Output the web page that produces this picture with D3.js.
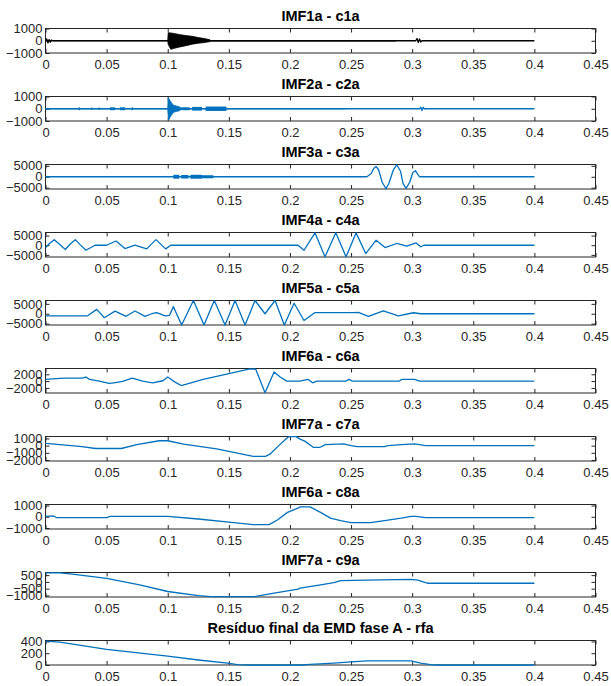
<!DOCTYPE html>
<html>
<head>
<meta charset="utf-8">
<script src="https://cdn.jsdelivr.net/npm/d3@7"></script>
<style>
  html, body { margin: 0; padding: 0; background: #fff; }
  svg { display: block; }
  .tick text { font-family: "Liberation Sans", Arial, sans-serif; font-size: 13px; fill: #262626; }
  .title { font-family: "Liberation Sans", Arial, sans-serif; font-size: 14.5px; font-weight: bold; fill: #000; }
</style>
</head>
<body>
<svg id="chart" width="611" height="686"></svg>
<script>
// ---- Shared axis data ----
const xTicks = [0, 0.05, 0.1, 0.15, 0.2, 0.25, 0.3, 0.35, 0.4, 0.45];
const xTickLabels = ["0", "0.05", "0.1", "0.15", "0.2", "0.25", "0.3", "0.35", "0.4", "0.45"];

const titles = [
  "IMF1a - c1a", "IMF2a - c2a", "IMF3a - c3a", "IMF4a - c4a", "IMF5a - c5a",
  "IMF6a - c6a", "IMF7a - c7a", "IMF6a - c8a", "IMF7a - c9a",
  "Resíduo final da EMD fase A - rfa"
];

const yLimits = [
  [-1000, 1000], [-1000, 1000], [-5600, 5600], [-6100, 6600], [-5700, 6700],
  [-3500, 3700], [-2140, 1270], [-1090, 1090], [-1116, 695], [0, 416]
];

const yTicks = [
  [-1000, 0, 1000], [-1000, 0, 1000], [-5000, 0, 5000], [-5000, 0, 5000], [-5000, 0, 5000],
  [-2000, 0, 2000], [-2000, -1000, 0, 1000], [-1000, 0, 1000], [-1000, -500, 0, 500], [0, 200, 400]
];

// ---- Component c1 (time, value) ----
const c1Line = [[0,0],[0.001,150],[0.002,-180],[0.003,100],[0.004,-120],[0.005,60],[0.006,0],
  [0.1,0],[0.135,0],[0.287,0],[0.303,0],[0.304,180],[0.305,-150],[0.306,150],[0.307,-100],[0.308,0],[0.4,0]];
// noise bands: [start, end, half amplitude]
const c1Bands = [[0,0.1,40],[0.135,0.287,60]];
// oscillation envelope: [time, lower, upper]
const c1Burst = [[0.1,0,0],[0.1004,-300,650],[0.1025,-700,640],[0.106,-600,580],[0.11,-500,500],
  [0.115,-400,420],[0.12,-280,360],[0.125,-200,260],[0.13,-150,180],[0.1346,-70,80]];

// ---- Component c2 ----
const c2Line = [[0,0],[0.1,0],[0.111,0],[0.245,0],[0.306,0],[0.307,120],[0.308,-150],[0.309,130],[0.31,0],[0.4,0]];
const c2Bands = [[0,0.245,45],[0.0272,0.0282,120],[0.0373,0.0383,100],[0.0433,0.0443,100],
  [0.0528,0.0569,120],[0.061,0.0651,120],[0.0705,0.0716,120],[0.111,0.118,120],[0.12,0.128,150],[0.131,0.148,180]];
const c2Burst = [[0.1,0,0],[0.1003,-500,900],[0.1008,-920,850],[0.102,-700,650],[0.1035,-450,420],
  [0.105,-280,280],[0.107,-220,220],[0.109,-180,180],[0.111,-60,60]];

// ---- Component c3 ----
const c3Line = [[0,0],[0.263,0],[0.2665,1500],[0.2685,3800],[0.2705,4700],[0.2725,3200],[0.2755,-2500],
  [0.2786,-5500],[0.281,-3000],[0.2845,3000],[0.2874,5500],[0.2905,2500],[0.2925,-3000],[0.295,-5300],
  [0.298,-2500],[0.3005,1800],[0.3026,2800],[0.3045,1200],[0.306,0],[0.4,0]];
const c3Bands = [[0.1046,0.1095,900],[0.111,0.117,800],[0.1185,0.128,900],[0.128,0.1373,700]];

// ---- Component c4 ----
const c4Line = [[0,-1200],[0.0035,1000],[0.0072,2900],[0.0115,500],[0.0162,-2200],[0.0205,800],[0.0244,2900],
  [0.0285,200],[0.0331,-2600],[0.0405,0],[0.05,0],[0.0577,2200],[0.065,-1700],[0.0732,0],[0.0828,-1900],
  [0.0904,2900],[0.0983,-1900],[0.1025,0],[0.2066,0],[0.2115,-2600],[0.2205,6400],[0.2287,-6000],
  [0.2375,6500],[0.2459,-6000],[0.2541,6400],[0.262,-4300],[0.2705,2600],[0.2778,-1200],[0.2874,900],
  [0.2956,-500],[0.3032,1200],[0.307,-800],[0.3097,0],[0.4,0]];

// ---- Component c5 ----
const c5Line = [[0,-1100],[0.0342,-1100],[0.0419,2200],[0.0481,-2000],[0.0569,1300],[0.0659,-1300],
  [0.0732,1400],[0.0814,-1300],[0.0869,0],[0.091,600],[0.0978,-1100],[0.1015,-800],[0.1046,3600],
  [0.1114,-5700],[0.121,6700],[0.1297,-5700],[0.1381,6700],[0.1469,-5700],[0.1551,6700],[0.1633,-5700],
  [0.1714,6700],[0.1796,0],[0.1878,6700],[0.1954,-5700],[0.2034,5300],[0.2115,-3400],[0.2205,600],
  [0.2519,600],[0.256,700],[0.2642,-1300],[0.2764,1500],[0.2887,-1100],[0.301,500],[0.307,0],[0.4,0]];

// ---- Component c6 ----
const c6Line = [[0,500],[0.015,900],[0.03,900],[0.033,1200],[0.036,500],[0.044,0],[0.052,-700],[0.056,-500],
  [0.063,-100],[0.071,900],[0.0795,0],[0.0877,-500],[0.096,100],[0.1,1200],[0.106,-300],[0.111,-1300],
  [0.119,-500],[0.129,500],[0.1674,3600],[0.172,3500],[0.1796,-3400],[0.187,2700],[0.192,1200],[0.1974,0],
  [0.208,0],[0.215,500],[0.2185,-500],[0.222,0],[0.2457,0],[0.2485,500],[0.251,0],[0.2895,0],[0.2915,500],
  [0.302,500],[0.306,0],[0.4,0]];

// ---- Component c7 ----
const c7Line = [[0,300],[0.0075,200],[0.03,-140],[0.0409,-400],[0.062,-400],[0.0747,140],[0.093,680],[0.1,680],
  [0.113,220],[0.14,-450],[0.17,-1500],[0.18,-1500],[0.184,-1140],[0.19,-140],[0.198,1140],[0.2,1250],
  [0.205,1250],[0.2083,900],[0.2125,590],[0.219,-230],[0.2247,-230],[0.229,140],[0.244,230],[0.25,0],
  [0.255,-140],[0.2774,-140],[0.28,0],[0.291,140],[0.302,230],[0.311,0],[0.4,0]];

// ---- Component c8 ----
const c8Line = [[0,30],[0.0062,80],[0.009,-70],[0.05,-70],[0.053,30],[0.1,30],[0.125,-200],[0.152,-500],
  [0.17,-700],[0.183,-700],[0.19,-270],[0.198,390],[0.207,790],[0.2083,880],[0.2165,880],[0.225,390],
  [0.2332,-120],[0.2414,-340],[0.25,-520],[0.266,-520],[0.2774,-340],[0.291,-120],[0.299,30],[0.303,30],
  [0.311,-70],[0.4,-70]];

// ---- Component c9 ----
const c9Line = [[0,670],[0.0117,670],[0.022,570],[0.05,260],[0.077,-220],[0.1,-710],[0.125,-1020],[0.136,-1090],
  [0.171,-1090],[0.187,-830],[0.2067,-540],[0.2083,-460],[0.225,-220],[0.236,-60],[0.2414,90],[0.263,130],
  [0.299,190],[0.3046,130],[0.311,-60],[0.313,-100],[0.4,-100]];

// ---- Final residue rfa ----
const rfaLine = [[0,405],[0.0117,390],[0.05,267],[0.1,150],[0.125,85],[0.149,32],[0.157,5],[0.165,0],[0.21,0],
  [0.2165,10],[0.236,32],[0.25,53],[0.263,69],[0.299,69],[0.307,32],[0.315,5],[0.32,0],[0.4,0]];

const seriesLines = [c1Line, c2Line, c3Line, c4Line, c5Line, c6Line, c7Line, c8Line, c9Line, rfaLine];
const seriesBands = [c1Bands, c2Bands, c3Bands, [], [], [], [], [], [], []];
const seriesBursts = [c1Burst, c2Burst, null, null, null, null, null, null, null, null];

// ---- Layout ----
const svg = d3.select("#chart");
const left = 45.5, right = 595.5;
const firstTop = 28.5, step = 68, plotH = 24.5;
const W = right - left;
const BLUE = "#0072BD";
const FRAME = "#262626";

const x = d3.scaleLinear().domain([0, 0.45]).range([0, W]);

titles.forEach((title, i) => {
  const top = firstTop + i * step;
  const g = svg.append("g").attr("transform", `translate(${left},${top})`);
  const y = d3.scaleLinear().domain(yLimits[i]).range([plotH, 0]);
  const color = i === 0 ? "#000" : BLUE;

  // Axes frame with inward ticks on all four sides
  const bottomAxis = d3.axisBottom(x).tickValues(xTicks)
    .tickFormat((d, k) => xTickLabels[k]).tickSizeInner(-4).tickSizeOuter(0).tickPadding(7);
  const topAxis = d3.axisTop(x).tickValues(xTicks).tickFormat("").tickSizeInner(-4).tickSizeOuter(0);
  const leftAxis = d3.axisLeft(y).tickValues(yTicks[i]).tickFormat(d3.format("d"))
    .tickSizeInner(-4).tickSizeOuter(0).tickPadding(3);
  const rightAxis = d3.axisRight(y).tickValues(yTicks[i]).tickFormat("").tickSizeInner(-4).tickSizeOuter(0);

  const axes = [
    g.append("g").attr("transform", `translate(0,${plotH})`).call(bottomAxis),
    g.append("g").call(topAxis),
    g.append("g").call(leftAxis),
    g.append("g").attr("transform", `translate(${W},0)`).call(rightAxis)
  ];
  axes.forEach(a => {
    a.select(".domain").remove();
    a.selectAll(".tick line").attr("stroke", FRAME);
  });

  g.append("rect").attr("x", 0).attr("y", 0).attr("width", W).attr("height", plotH)
    .attr("fill", "none").attr("stroke", FRAME).attr("stroke-width", 1);

  // Noise bands
  g.selectAll("rect.band").data(seriesBands[i]).join("rect")
    .attr("class", "band")
    .attr("x", d => x(d[0]))
    .attr("width", d => Math.max(1, x(d[1]) - x(d[0])))
    .attr("y", d => y(d[2]))
    .attr("height", d => y(-d[2]) - y(d[2]))
    .attr("fill", color);

  // Oscillation envelopes
  if (seriesBursts[i]) {
    const area = d3.area().x(d => x(d[0])).y0(d => y(d[1])).y1(d => y(d[2]));
    g.append("path").datum(seriesBursts[i]).attr("d", area)
      .attr("fill", color).attr("stroke", color).attr("stroke-width", 0.8);
  }

  // Signal trace
  const line = d3.line().x(d => x(d[0])).y(d => y(d[1]));
  g.append("path").datum(seriesLines[i]).attr("d", line)
    .attr("fill", "none").attr("stroke", color).attr("stroke-width", 1.3)
    .attr("stroke-linejoin", "round");

  // Title
  svg.append("text").attr("class", "title")
    .attr("x", left + W / 2).attr("y", top - 7.5)
    .attr("text-anchor", "middle").text(title);
});
</script>
</body>
</html>
